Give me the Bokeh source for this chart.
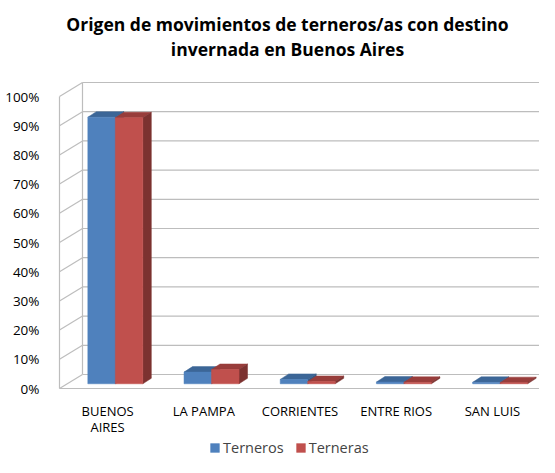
from bokeh.plotting import figure
from bokeh.models import FixedTicker, Label, Legend, LegendItem, Range1d
from bokeh.core.properties import value
from bokeh.embed import file_html
from bokeh.resources import INLINE

# ---------------- data ----------------
categories = ["BUENOS\nAIRES", "LA PAMPA", "CORRIENTES", "ENTRE RIOS", "SAN LUIS"]
terneros = [91.3, 4.0, 1.5, 0.6, 0.5]
terneras = [91.1, 4.9, 0.8, 0.5, 0.4]
series_names = ["Terneros", "Terneras"]
y_ticks = [0, 10, 20, 30, 40, 50, 60, 70, 80, 90, 100]
y_tick_labels = ["0%", "10%", "20%", "30%", "40%", "50%", "60%", "70%", "80%", "90%", "100%"]
title_lines = ["Origen de movimientos de terneros/as con destino",
               "invernada en Buenos Aires"]

# ---------------- layout helpers ----------------
FONT = "Open Sans"
W, H = 539, 457
FRAME_L = 55
SX, SY = 96.2, 2.92          # pixels per category / per percent
X0, Y0 = 59, 388             # position of the front-left floor corner


def X(px):
    return (px - X0) / SX


def Y(py):
    return (Y0 - py) / SY


x_start, x_end = X(FRAME_L), X(W)
y_start, y_end = Y(H), Y(0)

p = figure(width=W, height=H, x_range=Range1d(x_start, x_end), y_range=Range1d(y_start, y_end),
           x_axis_location=None, output_backend="svg", toolbar_location=None,
           min_border_left=FRAME_L, min_border_right=0, min_border_top=0, min_border_bottom=0)
p.grid.visible = False
p.outline_line_color = None
p.background_fill_color = "white"
p.border_fill_color = "white"

ax = p.yaxis[0]
ax.ticker = FixedTicker(ticks=y_ticks)
ax.major_label_overrides = {t: l for t, l in zip(y_ticks, y_tick_labels)}
ax.axis_line_color = None
ax.major_tick_line_color = None
ax.minor_tick_line_color = None
ax.major_label_standoff = 10
ax.major_label_text_font = FONT
ax.major_label_text_font_size = "13.5px"
ax.major_label_text_color = "#000000"

# ---------------- 3D walls ----------------
n = len(categories)
DX, DY = 23 / SX, 14 / SY
GRID = "#BDBDBD"
# left wall diagonals
p.segment(x0=[0] * len(y_ticks), y0=y_ticks, x1=[DX] * len(y_ticks), y1=[t + DY for t in y_ticks],
          line_color=GRID, line_width=1.2)
# back wall horizontal gridlines
p.segment(x0=[DX] * len(y_ticks), y0=[t + DY for t in y_ticks], x1=[x_end] * len(y_ticks),
          y1=[t + DY for t in y_ticks], line_color=GRID, line_width=1.2)
# edges: front-left vertical, back-left vertical, floor front, floor right
p.segment(x0=[0, DX, 0, n], y0=[0, DY, 0, 0], x1=[0, DX, n, n + DX],
          y1=[y_ticks[-1], y_ticks[-1] + DY, 0, DY], line_color=GRID, line_width=1.2)

# ---------------- 3D bars ----------------
D1 = 0.336
BW = 27.5 / SX
BDX, BDY = 8.5 / SX, 5.5 / SY
colors = [("#4F81BD", "#3C6697", "#345A87"), ("#C0504D", "#983D3B", "#7C3230")]
fronts = []
for s, vals in enumerate([terneros, terneras]):
    front_c, top_c, side_c = colors[s]
    L, R, B, T = [], [], [], []
    tx, ty, sx_, sy_ = [], [], [], []
    for i, v in enumerate(vals):
        l = i + 0.5 - BW + s * BW + D1 * DX
        r = l + BW
        b = D1 * DY
        t = b + v
        L.append(l); R.append(r); B.append(b); T.append(t)
        tx.append([l, r, r + BDX, l + BDX]); ty.append([t, t, t + BDY, t + BDY])
        sx_.append([r, r + BDX, r + BDX, r]); sy_.append([b, b + BDY, t + BDY, t])
    p.patches(xs=tx, ys=ty, fill_color=top_c, line_color=top_c, line_width=0.5)
    p.patches(xs=sx_, ys=sy_, fill_color=side_c, line_color=side_c, line_width=0.5)
    fr = p.quad(left=L, right=R, bottom=B, top=T, fill_color=front_c, line_color=front_c, line_width=0.5)
    fronts.append(fr)

# ---------------- category labels ----------------
p.text(x=[i + 0.5 for i in range(n)], y=[Y(401)] * n, text=categories,
       text_align="center", text_baseline="top", text_font=value(FONT),
       text_font_size="13px", text_color="#000000", text_line_height=0.9)

# ---------------- title ----------------
for k, line in enumerate(title_lines):
    p.add_layout(Label(x=X(287), y=Y(23 + 25 * k), text=line, text_align="center",
                       text_baseline="middle", text_font=FONT, text_font_size="17.5px",
                       text_font_style="bold", text_color="#000000"))

# ---------------- legend ----------------
legend = Legend(items=[LegendItem(label=series_names[0], renderers=[fronts[0]]),
                       LegendItem(label=series_names[1], renderers=[fronts[1]])],
                location=(209 - FRAME_L, 0), orientation="horizontal",
                padding=0, margin=0, border_line_color=None, background_fill_alpha=0,
                glyph_width=11, glyph_height=11, label_standoff=3, spacing=11,
                label_text_font=FONT, label_text_font_size="14.5px", label_height=14)
p.add_layout(legend, "center")

open("out.html", "w").write(file_html(p, INLINE))
